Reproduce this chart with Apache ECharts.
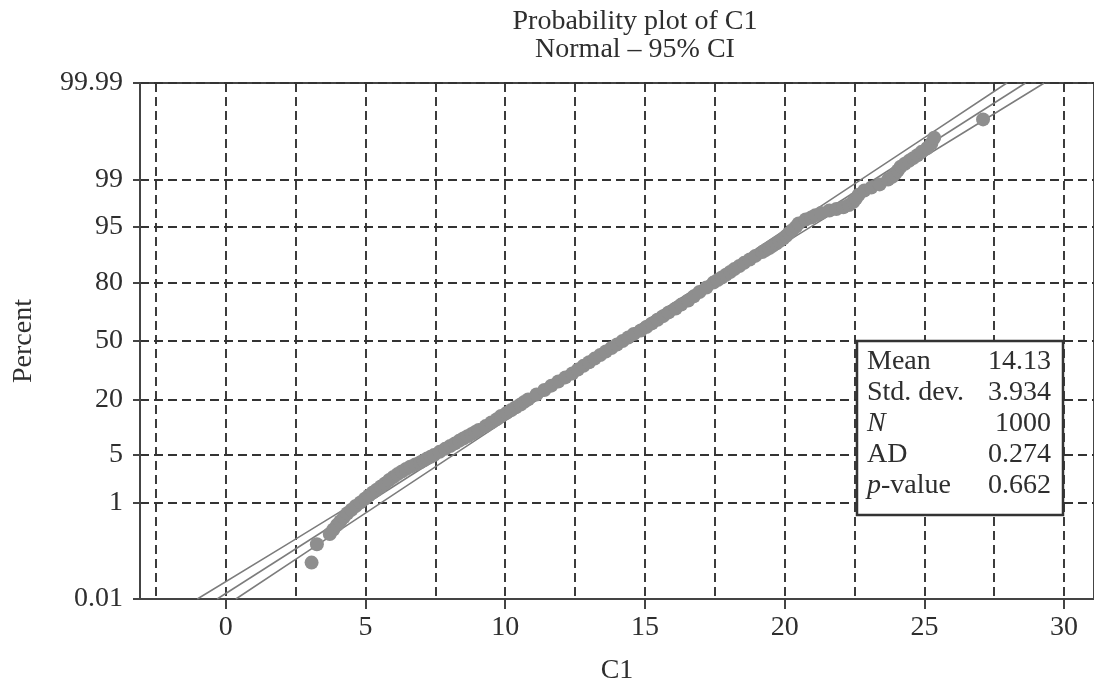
<!DOCTYPE html>
<html><head><meta charset="utf-8">
<script src="https://cdn.jsdelivr.net/npm/echarts@6/dist/echarts.min.js"></script>
<style>html,body{margin:0;padding:0;background:#fff}#c{width:1094px;height:690px}</style>
</head><body><div id="c"></div>
<script>
// ---- data ----
const titleLines = ['Probability plot of C1', 'Normal \u2013 95% CI'];
const xLabelValues = [0, 5, 10, 15, 20, 25, 30];
const xGridValues = [-2.5, 0, 2.5, 5, 7.5, 10, 12.5, 15, 17.5, 20, 22.5, 25, 27.5, 30];
const percentTicks = [0.01, 1, 5, 20, 50, 80, 95, 99, 99.99];

const pointPercent = [0.07, 0.17, 0.27, 0.33, 0.4, 0.47, 0.55, 0.65, 0.75, 0.87, 1.0, 1.15, 1.3, 1.45, 1.6, 1.8,
  2.0, 2.25, 2.5, 2.75, 3.0, 3.25, 3.5, 3.75, 4.0, 4.25, 4.5, 4.75, 5, 5.5, 6, 6.5, 7, 7.5, 8, 8.5, 9, 9.5,
  10, 11, 12, 13, 14, 15, 16, 17, 18, 19, 20, 22, 24, 26, 28, 30, 32, 34, 36, 38, 40, 42, 44, 46, 48, 50,
  52, 54, 56, 58, 60, 62, 64, 66, 68, 70, 72, 74, 76, 78, 80, 81, 82, 83, 84, 85, 86, 87, 88, 89,
  90, 90.5, 91, 91.5, 92, 92.5, 93, 93.5, 94, 94.5, 95, 95.5, 96, 96.25, 96.5, 96.75, 97, 97.15, 97.3,
  97.5, 97.75, 98, 98.25, 98.5, 98.65, 98.8, 99.0, 99.1, 99.2, 99.3, 99.4, 99.47, 99.53, 99.58, 99.63,
  99.68, 99.73, 99.78, 99.83, 99.93];
const pointX = [3.07, 3.26, 3.72, 3.85, 3.98, 4.1, 4.22, 4.35, 4.5, 4.65, 4.82, 4.98, 5.12, 5.26, 5.4, 5.55,
  5.7, 5.85, 6.0, 6.15, 6.3, 6.45, 6.6, 6.78, 6.95, 7.08, 7.2, 7.33, 7.45, 7.65, 7.85, 8.03, 8.2, 8.35, 8.5, 8.65, 8.8, 8.93,
  9.05, 9.3, 9.5, 9.7, 9.85, 10.05, 10.22, 10.38, 10.55, 10.68, 10.82, 11.12, 11.4, 11.65, 11.9, 12.15, 12.4, 12.6, 12.8, 13.0, 13.2, 13.4, 13.6, 13.8, 14.0, 14.2,
  14.4, 14.6, 14.85, 15.05, 15.25, 15.45, 15.65, 15.85, 16.1, 16.3, 16.55, 16.75, 16.95, 17.2, 17.45, 17.6, 17.75, 17.9, 18.05, 18.2, 18.38, 18.55, 18.75, 18.95,
  19.2, 19.32, 19.45, 19.57, 19.7, 19.82, 19.95, 20.05, 20.15, 20.27, 20.4, 20.5, 20.75, 20.95, 21.1, 21.3, 21.6, 21.85, 22.1,
  22.3, 22.45, 22.55, 22.65, 22.85, 23.1, 23.4, 23.7, 23.85, 23.95, 24.05, 24.15, 24.3, 24.45, 24.6, 24.75,
  24.9, 25.1, 25.25, 25.35, 27.1];

const fitP = [0.01, 99.99];
const fitX = [-0.31, 28.62];
const ciP = [0.01, 1, 10, 50, 90, 99, 99.99];
const ciLeftX = [-1.02, 4.64, 8.84, 13.91, 18.81, 22.73, 27.95];
const ciRightX = [0.36, 5.58, 9.50, 14.40, 19.47, 23.67, 29.29];

const statNames = ['Mean', 'Std. dev.', '{i|N}', 'AD', '{i|p}-value'];
const statValues = ['14.13', '3.934', '1000', '0.274', '0.662'];

// ---- probit scale transform (normal probability axis) ----
function probit(pct) {
  const p = pct / 100;
  const a = [-3.969683028665376e+01, 2.209460984245205e+02, -2.759285104469687e+02, 1.383577518672690e+02, -3.066479806614716e+01, 2.506628277459239e+00];
  const b = [-5.447609879822406e+01, 1.615858368580409e+02, -1.556989798598866e+02, 6.680131188771972e+01, -1.328068155288572e+01];
  const c = [-7.784894002430293e-03, -3.223964580411365e-01, -2.400758277161838e+00, -2.549732539343734e+00, 4.374664141464968e+00, 2.938163982698783e+00];
  const d = [7.784695709041462e-03, 3.224671290700398e-01, 2.445134137142996e+00, 3.754408661907416e+00];
  const pl = 0.02425;
  let q, r;
  if (p < pl) {
    q = Math.sqrt(-2 * Math.log(p));
    return (((((c[0]*q+c[1])*q+c[2])*q+c[3])*q+c[4])*q+c[5]) / ((((d[0]*q+d[1])*q+d[2])*q+d[3])*q+1);
  } else if (p <= 1 - pl) {
    q = p - 0.5; r = q * q;
    return (((((a[0]*r+a[1])*r+a[2])*r+a[3])*r+a[4])*r+a[5])*q / (((((b[0]*r+b[1])*r+b[2])*r+b[3])*r+b[4])*r+1);
  } else {
    q = Math.sqrt(-2 * Math.log(1 - p));
    return -(((((c[0]*q+c[1])*q+c[2])*q+c[3])*q+c[4])*q+c[5]) / ((((d[0]*q+d[1])*q+d[2])*q+d[3])*q+1);
  }
}

const FONT = '"Liberation Serif", "DejaVu Serif", serif';
const FS = 28;
const TXT = '#2e2e2e';
const zTicks = percentTicks.map(probit);
const zMin = zTicks[0], zMax = zTicks[zTicks.length - 1];
const xMin = -3.07, xMax = 31.07;

const pts = pointX.map((x, i) => [x, probit(pointPercent[i])]);
const lineOf = (xs, ps) => xs.map((x, i) => [x, probit(ps[i])]);

const chart = echarts.init(document.getElementById('c'), null, { renderer: 'canvas' });
const axisLabelStyle = { fontFamily: FONT, fontSize: FS, color: TXT };
const dashed = { show: true, lineStyle: { color: '#333', type: [9, 5], width: 1.9 } };

chart.setOption({
  animation: false,
  backgroundColor: '#fff',
  grid: { left: 140, top: 83, right: -3, bottom: 87, show: true, borderColor: '#444', borderWidth: 2, backgroundColor: 'transparent' },
  xAxis: [
    {
      type: 'value', min: xMin, max: xMax, gridIndex: 0, position: 'bottom',
      name: 'C1', nameLocation: 'middle', nameGap: 58,
      nameTextStyle: { fontFamily: FONT, fontSize: FS, color: TXT },
      axisLine: { show: true, onZero: false, lineStyle: { color: '#444', width: 2 } },
      axisTick: { show: true, length: 10, customValues: xLabelValues, lineStyle: { color: '#444', width: 2 } },
      axisLabel: Object.assign({ customValues: xLabelValues, margin: 15 }, axisLabelStyle),
      splitLine: { show: false }
    },
    {
      type: 'value', min: xMin, max: xMax, gridIndex: 0, position: 'bottom',
      axisLine: { show: false, onZero: false },
      axisTick: { show: false, customValues: xGridValues },
      axisLabel: { show: false, customValues: xGridValues },
      splitLine: dashed
    }
  ],
  yAxis: {
    type: 'value', min: zMin, max: zMax,
    name: 'Percent', nameLocation: 'middle', nameGap: 102, nameRotate: 90,
    nameTextStyle: { fontFamily: FONT, fontSize: FS, color: TXT },
    axisLine: { show: true, onZero: false, lineStyle: { color: '#444', width: 2 } },
    axisTick: { show: true, length: 7, customValues: zTicks, lineStyle: { color: '#444', width: 2 } },
    axisLabel: Object.assign({
      customValues: zTicks, margin: 17,
      formatter: v => {
        let best = 0;
        zTicks.forEach((z, i) => { if (Math.abs(z - v) < Math.abs(zTicks[best] - v)) best = i; });
        return String(percentTicks[best]);
      }
    }, axisLabelStyle),
    splitLine: dashed
  },
  series: [
    { type: 'line', xAxisIndex: 0, data: lineOf(fitX, fitP), showSymbol: false, symbol: 'none', lineStyle: { color: '#7c7c7c', width: 1.5 }, z: 2, silent: true },
    { type: 'line', xAxisIndex: 0, data: lineOf(ciLeftX, ciP), showSymbol: false, symbol: 'none', smooth: 0.3, lineStyle: { color: '#7c7c7c', width: 1.5 }, z: 2, silent: true },
    { type: 'line', xAxisIndex: 0, data: lineOf(ciRightX, ciP), showSymbol: false, symbol: 'none', smooth: 0.3, lineStyle: { color: '#7c7c7c', width: 1.5 }, z: 2, silent: true },
    { type: 'scatter', xAxisIndex: 0, data: pts, symbol: 'circle', symbolSize: 14, itemStyle: { color: '#8e8e8e', opacity: 1 }, z: 3, silent: true }
  ],
  graphic: [
    { type: 'text', x: 635, y: 22, style: { text: titleLines[0], font: FS + 'px ' + FONT, fill: TXT, align: 'center', verticalAlign: 'middle' }, z: 10 },
    { type: 'text', x: 635, y: 50, style: { text: titleLines[1], font: FS + 'px ' + FONT, fill: TXT, align: 'center', verticalAlign: 'middle' }, z: 10 },
    { type: 'rect', shape: { x: 857, y: 341, width: 206, height: 174 }, style: { fill: '#fff', stroke: '#333', lineWidth: 2.5 }, z: 20 }
  ].concat(statNames.map((n, i) => ({
    type: 'text', x: 867, y: 362 + i * 31, z: 21,
    style: { text: n, fontFamily: FONT, fontSize: FS, fill: TXT, align: 'left', verticalAlign: 'middle',
      rich: { i: { fontFamily: FONT, fontSize: FS, fontStyle: 'italic', fill: TXT } } }
  }))).concat(statValues.map((v, i) => ({
    type: 'text', x: 1051, y: 362 + i * 31, z: 21,
    style: { text: v, fontFamily: FONT, fontSize: FS, fill: TXT, align: 'right', verticalAlign: 'middle' }
  })))
});
</script>
</body></html>
